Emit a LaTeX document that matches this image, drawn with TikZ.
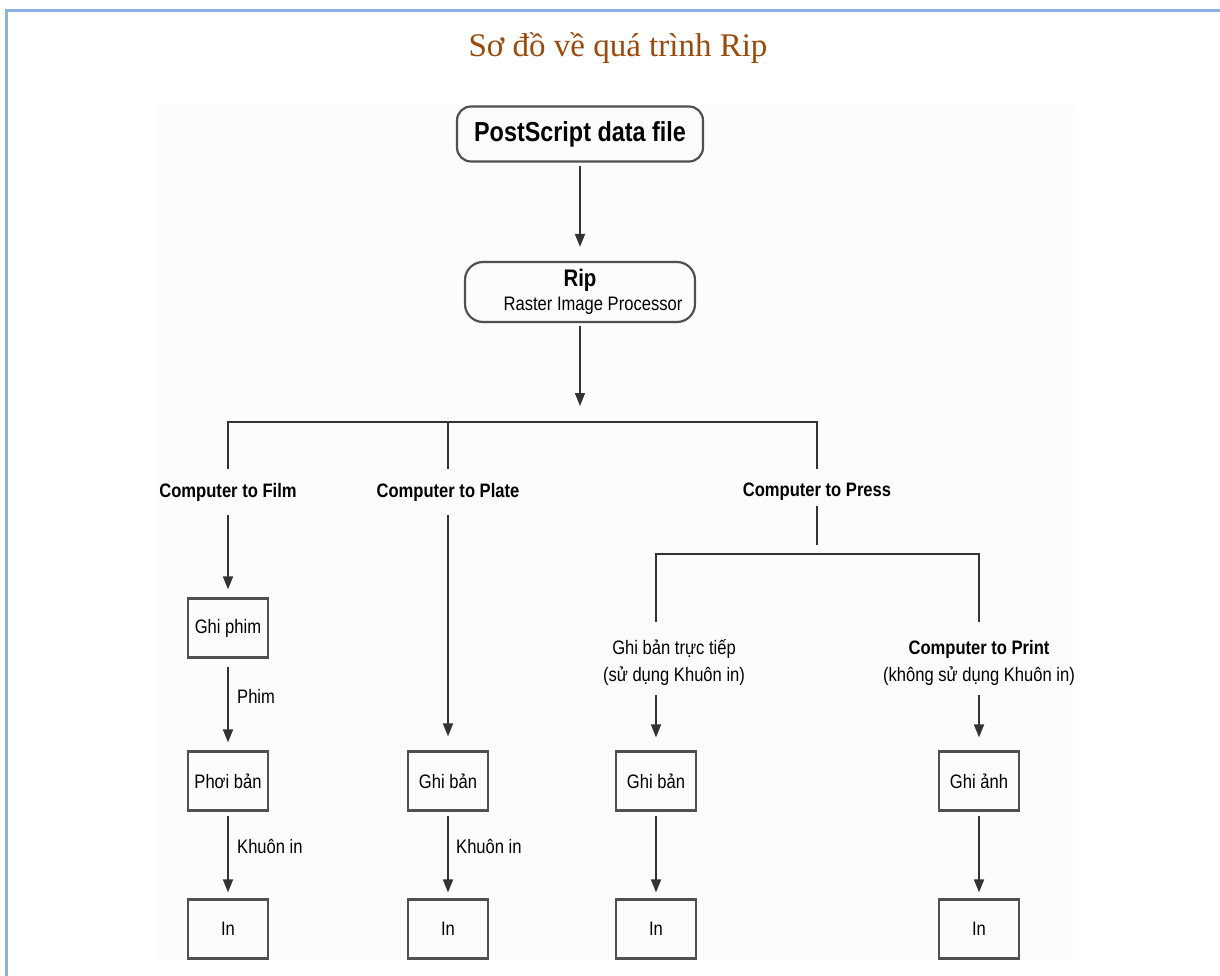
\documentclass[tikz,border=0pt]{standalone}
\usepackage{fontspec}
\setmainfont{Liberation Sans}
\newfontfamily\diagfont[FakeStretch=0.85]{Liberation Sans}
\newfontfamily\titlefont{Liberation Serif}
\usetikzlibrary{arrows.meta}
\definecolor{frameblue}{HTML}{8AB2E3}
\definecolor{titlebrown}{HTML}{9A4A0C}
\definecolor{edgegray}{HTML}{333333}
\definecolor{boxgray}{HTML}{505050}
\definecolor{panel}{HTML}{FCFCFC}

\begin{document}
\begin{tikzpicture}[x=1pt,y=-1pt,
  txt/.style={font=\diagfont\fontsize{19.5}{27}\selectfont, inner sep=0pt},
  head/.style={font=\diagfont\bfseries\fontsize{19.5}{24}\selectfont, inner sep=0pt, minimum height=46},
  stage/.style={draw=boxgray, line width=2.2pt, minimum width=80, minimum height=59, inner sep=0pt,
                font=\diagfont\fontsize{19.5}{24}\selectfont},
  rbox/.style={draw=boxgray, line width=2.2pt, rounded corners=14},
  link/.style={draw=edgegray, line width=1.7pt},
  flow/.style={link, -{Triangle[length=13pt,width=10pt]}},
]
\useasboundingbox (0,0) rectangle (1220,976);

% page frame and panel
\fill[panel] (157,105) rectangle (1078,960);
\draw[frameblue, line width=3pt] (1220,11) -- (6,11) -- (6,976);

% title
\node[font=\titlefont\fontsize{33}{40}\selectfont, text=titlebrown] (title) at (618,48) {Sơ đồ về quá trình Rip};

% source and RIP
\node[rbox, minimum width=246, minimum height=55, inner sep=0pt,
      font=\diagfont\bfseries\fontsize{27.5}{32}\selectfont] (ps) at (580,134) {PostScript data file};
\node[rbox, rounded corners=18, minimum width=230, minimum height=60] (rip) at (580,292) {};
\node[font=\diagfont\bfseries\fontsize{24}{28}\selectfont, inner sep=0pt] (ripT) at (580,280) {Rip};
\node[txt] (ripS) at (593,306) {Raster Image Processor};

\coordinate (busTop) at (580,406);
\coordinate (bus) at (580,422);
\draw[flow, shorten <=3pt, shorten >=14pt] (ps.south) -- (rip.north);
\draw[flow, shorten <=3pt] (rip.south) -- (busTop);

% three output routes
\node[head] (film)  at (228,492) {Computer to Film};
\node[head] (plate) at (448,492) {Computer to Plate};
\node[head] (press) at (817,492) {Computer to Press};
\draw[link] (film.north) -- (film.north |- bus) -- (press.north |- bus) -- (press.north);
\draw[link] (plate.north) -- (plate.north |- bus);

% computer to film
\node[stage] (gp)  at (228,628) {Ghi phim};
\node[stage] (pb)  at (228,781) {Phơi bản};
\node[stage] (in1) at (228,929) {In};
\draw[flow, shorten >=8pt] (film.south) -- (gp.north);
\draw[flow, shorten <=8pt, shorten >=8pt] (gp) -- (pb);
\draw[flow, shorten <=4pt, shorten >=6pt] (pb) -- (in1);
\node[txt, anchor=west] (lphim) at (237,696) {Phim};
\node[txt, anchor=west] (lk1)   at (237,846) {Khuôn in};

% computer to plate
\node[stage] (gb2) at (448,781) {Ghi bản};
\node[stage] (in2) at (448,929) {In};
\draw[flow, shorten >=14pt] (plate.south) -- (gb2.north);
\draw[flow, shorten <=4pt, shorten >=6pt] (gb2) -- (in2);
\node[txt, anchor=west] (lk2) at (456,846) {Khuôn in};

% computer to press
\coordinate (stem) at (817,545);
\coordinate (sbL) at (656,554);
\coordinate (sbR) at (979,554);
\coordinate (stL) at (656,622);
\coordinate (stR) at (979,622);
\draw[link, shorten <=-9pt] (press.south) -- (stem);
\draw[link] (stL) -- (sbL) -- (sbR) -- (stR);

\node[txt, align=center] (direct) at (674,663) {Ghi bản trực tiếp\\(sử dụng Khuôn in)};
\node[txt, align=center] (ctprint) at (979,663) {\textbf{Computer to Print}\\(không sử dụng Khuôn in)};

\node[stage] (gb3) at (656,781) {Ghi bản};
\node[stage] (in3) at (656,929) {In};
\node[stage] (ga)  at (979,781) {Ghi ảnh};
\node[stage] (in4) at (979,929) {In};

\coordinate (aL) at (656,695);
\coordinate (aR) at (979,695);
\draw[flow, shorten >=13pt] (aL) -- (gb3.north);
\draw[flow, shorten >=13pt] (aR) -- (ga.north);
\draw[flow, shorten <=4pt, shorten >=6pt] (gb3) -- (in3);
\draw[flow, shorten <=4pt, shorten >=6pt] (ga) -- (in4);
\end{tikzpicture}
\end{document}
